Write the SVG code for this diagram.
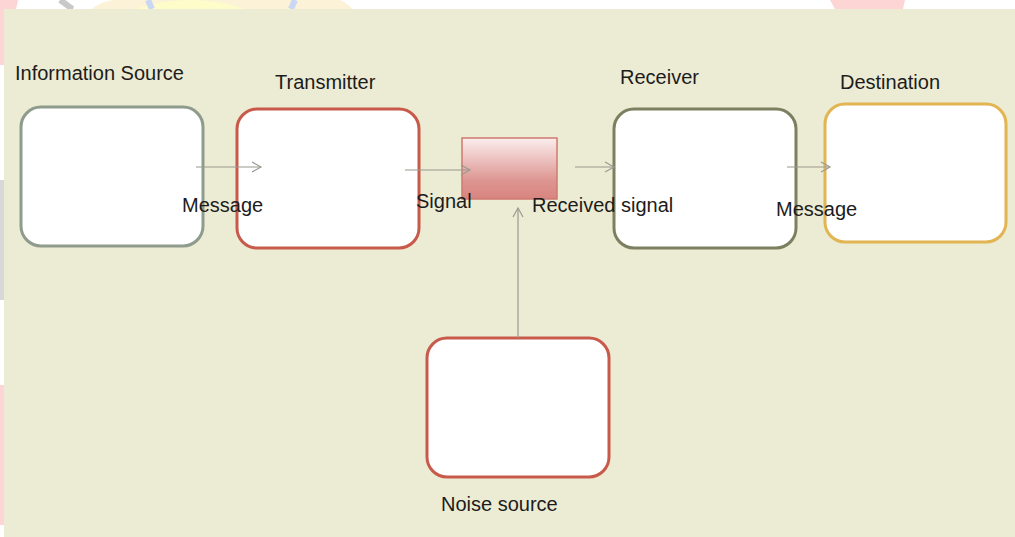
<svg xmlns="http://www.w3.org/2000/svg" width="1015" height="537" viewBox="0 0 1015 537">
<defs>
<style>
.box{fill:#ffffff;stroke-width:3}
.lbl{font-family:"Liberation Sans",Arial,sans-serif;font-size:20px;fill:#1c1c1c}
.conn{stroke:#9a9a90;stroke-width:1.2;fill:none}
</style>
<linearGradient id="gr" x1="0" y1="0" x2="0" y2="1">
<stop offset="0" stop-color="#fbeeee"/>
<stop offset="0.7" stop-color="#dd9591"/>
<stop offset="1" stop-color="#d8847f"/>
</linearGradient>
<marker id="ah" markerWidth="12" markerHeight="12" refX="10" refY="6" orient="auto" markerUnits="userSpaceOnUse">
<path d="M1,1 L10,6 L1,11" fill="none" stroke="#9a9a90" stroke-width="1.2"/>
</marker>
</defs>
<g id="background">
<rect x="0" y="0" width="1015" height="537" fill="#ffffff"/>
<path d="M0,0 L18,0 L4,65 L0,65 Z" fill="#fdd5d5"/>
<path d="M60,0 C66,4 70,8 73,9" stroke="#c8c8c8" stroke-width="6" fill="none"/>
<path d="M92,9 C100,2 110,0 118,0 L340,0 C345,2 350,6 352,9 Z" fill="#fcf2d8"/>
<ellipse cx="190" cy="40" rx="85" ry="40" fill="#fefcc8"/>
<path d="M148,0 L152,9" stroke="#c9d7f5" stroke-width="6"/>
<path d="M295,0 L291,9" stroke="#c9d7f5" stroke-width="6"/>
<path d="M830,0 L905,0 L903,9 L835,9 Z" fill="#fdd5d5"/>
<path d="M0,180 L4,180 L4,300 L0,300 Z" fill="#d8d8d8"/>
<path d="M0,385 L4,385 L4,525 L0,525 Z" fill="#fdd5d5"/>
<rect x="4" y="9" width="1011" height="528" fill="#ecebd3"/>
</g>
<g id="info-source">
<rect class="box" x="21" y="107" width="182" height="139" rx="20" stroke="#8f9b8c"/>
<text class="lbl" x="15" y="80">Information Source</text>
</g>
<g id="transmitter">
<rect class="box" x="237" y="109" width="182" height="139" rx="20" stroke="#c85a4c"/>
<text class="lbl" x="275" y="89">Transmitter</text>
</g>
<g id="channel">
<rect x="462" y="138" width="95" height="61" fill="url(#gr)" stroke="#cf7a72" stroke-width="1.5"/>
</g>
<g id="receiver">
<rect class="box" x="614" y="109" width="182" height="139" rx="20" stroke="#7c8060"/>
<text class="lbl" x="620" y="84">Receiver</text>
</g>
<g id="destination">
<rect class="box" x="825" y="104" width="181" height="138" rx="20" stroke="#e2b452"/>
<text class="lbl" x="840" y="89">Destination</text>
</g>
<g id="noise-source">
<rect class="box" x="427" y="338" width="182" height="139" rx="20" stroke="#c85a4c"/>
<text class="lbl" x="441" y="511">Noise source</text>
</g>
<g id="connectors">
<line class="conn" x1="196" y1="167" x2="261" y2="167" marker-end="url(#ah)"/>
<line class="conn" x1="405" y1="170" x2="470" y2="170" marker-end="url(#ah)"/>
<line class="conn" x1="575" y1="167" x2="614" y2="167" marker-end="url(#ah)"/>
<line class="conn" x1="787" y1="167" x2="830" y2="167" marker-end="url(#ah)"/>
<line class="conn" x1="518" y1="338" x2="518" y2="208" marker-end="url(#ah)"/>
</g>
<g id="labels">
<text class="lbl" x="182" y="212">Message</text>
<text class="lbl" x="416" y="208">Signal</text>
<text class="lbl" x="532" y="212">Received signal</text>
<text class="lbl" x="776" y="216">Message</text>
</g>
</svg>
